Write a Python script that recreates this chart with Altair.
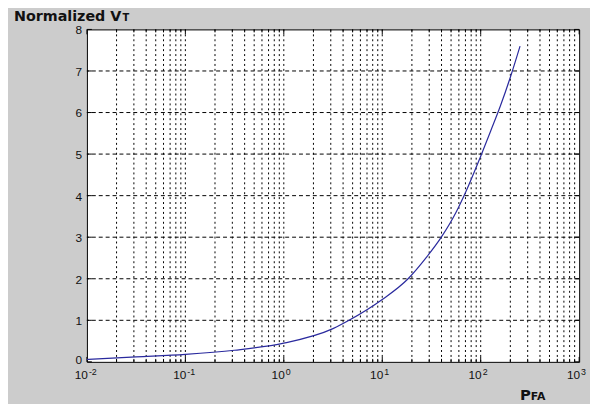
import altair as alt
import pandas as pd

# curve
p_fa = [0.01, 0.0316, 0.1, 0.316, 1, 3.16, 4.6, 10, 18.3, 28.2, 39.8, 56.2, 70.8, 100, 126, 158, 200, 251]
v_t = [0.06, 0.12, 0.18, 0.28, 0.45, 0.8, 1.0, 1.5, 2.0, 2.52, 3.0, 3.6, 4.1, 4.95, 5.55, 6.15, 6.85, 7.6]

# axis ticks
decades = [0.01, 0.1, 1, 10, 100, 1000]
exponents = ["-2", "-1", "0", "1", "2", "3"]
minor_mult = [2, 3, 4, 5, 6, 7, 8, 9]
y_ticks = [0, 1, 2, 3, 4, 5, 6, 7, 8]

W, H = 499, 337
BG = "#cccccc"

xscale = alt.Scale(type="log", domain=[0.01, 1000], nice=False)
yscale = alt.Scale(domain=[0, 8], nice=False, zero=False)

curve_df = pd.DataFrame({"p": p_fa, "v": v_t})
minor_vals = [m * d for d in decades[:-1] for m in minor_mult]
grid_x_df = pd.DataFrame({"g": decades[1:-1] + minor_vals})
minor_df = pd.DataFrame({"g": minor_vals})
major_df = pd.DataFrame({"g": decades, "e": exponents})
grid_y_df = pd.DataFrame({"y": y_ticks[1:-1]})
ytick_df = pd.DataFrame({"y": y_ticks, "lab": [str(v) for v in y_ticks]})

xgrid = alt.Chart(grid_x_df).mark_rule(color="black", strokeWidth=1, strokeDash=[2, 3]).encode(
    x=alt.X("g:Q", scale=xscale, axis=None)
)
ygrid = alt.Chart(grid_y_df).mark_rule(color="black", strokeWidth=1, strokeDash=[4, 3]).encode(
    y=alt.Y("y:Q", scale=yscale, axis=None)
)

# inward ticks on all four edges
tick_bot_min = alt.Chart(minor_df).mark_rule(color="black").encode(
    x=alt.X("g:Q", scale=xscale, axis=None), y=alt.value(H), y2=alt.value(H - 3)
)
tick_top_min = alt.Chart(minor_df).mark_rule(color="black").encode(
    x=alt.X("g:Q", scale=xscale, axis=None), y=alt.value(0), y2=alt.value(3)
)
tick_bot_maj = alt.Chart(major_df).mark_rule(color="black").encode(
    x=alt.X("g:Q", scale=xscale, axis=None), y=alt.value(H), y2=alt.value(H - 5)
)
tick_top_maj = alt.Chart(major_df).mark_rule(color="black").encode(
    x=alt.X("g:Q", scale=xscale, axis=None), y=alt.value(0), y2=alt.value(5)
)
tick_left = alt.Chart(ytick_df).mark_rule(color="black").encode(
    y=alt.Y("y:Q", scale=yscale, axis=None), x=alt.value(0), x2=alt.value(5)
)
tick_right = alt.Chart(ytick_df).mark_rule(color="black").encode(
    y=alt.Y("y:Q", scale=yscale, axis=None), x=alt.value(W - 5), x2=alt.value(W)
)

curve = alt.Chart(curve_df).mark_line(color="#2a2a9e", strokeWidth=1.2, interpolate="monotone").encode(
    x=alt.X("p:Q", scale=xscale, axis=None),
    y=alt.Y("v:Q", scale=yscale, axis=None),
)

y_labels = alt.Chart(ytick_df).transform_filter("datum.y > 0").mark_text(
    align="right", baseline="middle", dx=-5, dy=1, fontSize=12,
    font="Liberation Sans", color="#111111"
).encode(y=alt.Y("y:Q", scale=yscale, axis=None), x=alt.value(0), text="lab:N")
y_label0 = alt.Chart(ytick_df).transform_filter("datum.y == 0").mark_text(
    align="right", baseline="middle", dx=-5, dy=-1.5, fontSize=12,
    font="Liberation Sans", color="#111111"
).encode(y=alt.Y("y:Q", scale=yscale, axis=None), x=alt.value(0), text="lab:N")

ten_labels = alt.Chart(major_df).mark_text(
    text="10", align="right", baseline="alphabetic", dx=1, fontSize=12,
    font="Liberation Sans", color="#111111"
).encode(x=alt.X("g:Q", scale=xscale, axis=None), y=alt.value(H + 17.5))

exp_labels = alt.Chart(major_df).mark_text(
    align="left", baseline="alphabetic", dx=2, fontSize=9,
    font="Liberation Sans", color="#111111"
).encode(x=alt.X("g:Q", scale=xscale, axis=None), y=alt.value(H + 13), text="e:N")

title_main = alt.Chart(pd.DataFrame({"t": ["Normalized V"]})).mark_text(
    align="left", baseline="alphabetic", fontSize=14.5, fontWeight="bold",
    font="DejaVu Sans", color="#111111"
).encode(x=alt.value(-74), y=alt.value(-9), text="t:N")
title_sub = alt.Chart(pd.DataFrame({"t": ["T"]})).mark_text(
    align="left", baseline="alphabetic", fontSize=10, fontWeight="bold",
    font="DejaVu Sans", color="#111111"
).encode(x=alt.value(36), y=alt.value(-9), text="t:N")

xlab_main = alt.Chart(pd.DataFrame({"t": ["P"]})).mark_text(
    align="left", baseline="alphabetic", fontSize=15, fontWeight="bold",
    font="DejaVu Sans", color="#111111"
).encode(x=alt.value(439), y=alt.value(376), text="t:N")
xlab_sub = alt.Chart(pd.DataFrame({"t": ["FA"]})).mark_text(
    align="left", baseline="alphabetic", fontSize=11, fontWeight="bold",
    font="DejaVu Sans", color="#111111"
).encode(x=alt.value(450), y=alt.value(376), text="t:N")

chart = (
    alt.layer(
        xgrid, ygrid, tick_bot_min, tick_top_min, tick_bot_maj, tick_top_maj,
        tick_left, tick_right, curve, y_labels, y_label0, ten_labels, exp_labels,
        title_main, title_sub, xlab_main, xlab_sub,
    )
    .properties(
        width=W,
        height=H,
        background=BG,
        padding={"left": 80, "top": 19, "right": 11, "bottom": 40},
        autosize=alt.AutoSizeParams(type="none"),
    )
    .configure_view(stroke="black", strokeWidth=1, fill="white")
)

chart.save("out.html", embed_options={"renderer": "svg", "actions": False})
